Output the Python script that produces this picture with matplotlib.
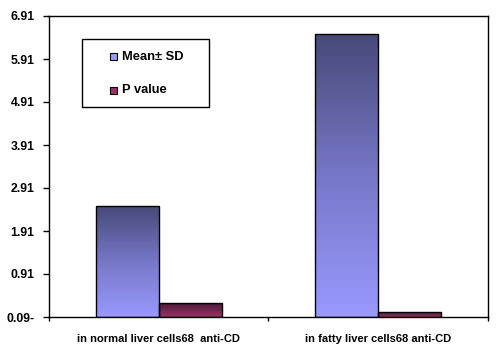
import numpy as np
import matplotlib.pyplot as plt
from matplotlib.colors import LinearSegmentedColormap
from matplotlib.patches import Rectangle

plt.rcParams['font.family'] = ['Liberation Sans', 'DejaVu Sans']
plt.rcParams['font.weight'] = 'bold'

categories = ['in normal liver cells68  anti-CD', 'in fatty liver cells68 anti-CD']
mean_sd = [2.49, 6.48]
p_value = [0.23, 0.02]
series = ['Mean± SD', 'P value']
yticks = [-0.09, 0.91, 1.91, 2.91, 3.91, 4.91, 5.91, 6.91]
ytick_labels = ['0.09-', '0.91', '1.91', '2.91', '3.91', '4.91', '5.91', '6.91']

W, H = 498, 354
fig = plt.figure(figsize=(W / 100, H / 100), dpi=100)
ax = fig.add_axes([49 / W, 1 - 317 / H, (487.7 - 49) / W, (317 - 16) / H])

ymin, ymax = -0.09, 6.91
x = np.arange(len(categories))
w = 0.287

cmap_mean = LinearSegmentedColormap.from_list('m', ['#9999ff', '#7777c8', '#474a78'])
cmap_p = LinearSegmentedColormap.from_list('p', ['#993366', '#4a1a38'])

def grad_bar(xc, h, cmap):
    bars = ax.bar(xc, h - ymin, w, bottom=ymin, color='none', edgecolor='black',
                  linewidth=1, zorder=3)
    for b in bars:
        grad = np.linspace(0, 1, 256).reshape(-1, 1)
        im = ax.imshow(grad, cmap=cmap, aspect='auto', origin='lower',
                       extent=[b.get_x(), b.get_x() + b.get_width(), ymin, ymin + b.get_height()],
                       zorder=2)
        im.set_clip_path(b)

grad_bar(x - w / 2, np.array(mean_sd), cmap_mean)
grad_bar(x + w / 2, np.array(p_value), cmap_p)

ax.set_xlim(-0.5, len(categories) - 0.5)
ax.set_ylim(ymin, ymax)
ax.set_yticks(yticks)
ax.set_yticklabels(ytick_labels, fontsize=8.8, fontweight='bold')
ax.set_xticks([-0.5, 0.5, 1.5])
ax.set_xticklabels([])
ax.set_xticks(x, minor=True)
ax.set_xticklabels(categories, minor=True, fontsize=8, fontweight='bold')
ax.tick_params(axis='x', which='minor', length=0, pad=12)
ax.tick_params(axis='x', which='major', length=3, width=1, direction='out')
ax.tick_params(axis='y', length=4.3, width=1, direction='out', pad=6)
for s in ax.spines.values():
    s.set_linewidth(1)

# legend box drawn by hand (figure pixel positions)
def fx(px):
    return px / W

def fy(py):
    return 1 - py / H

fig.patches.append(Rectangle((fx(82.3), fy(107.3)), fx(209.3) - fx(82.3), fy(39.3) - fy(107.3),
                             transform=fig.transFigure, facecolor='white', edgecolor='black',
                             linewidth=1, zorder=5))
for label, col, py in zip(series, ['#9999ff', '#993366'], [56.5, 90]):
    fig.patches.append(Rectangle((fx(110), fy(py + 3.5)), fx(7), 7 / H,
                                 transform=fig.transFigure, facecolor=col, edgecolor='black',
                                 linewidth=0.8, zorder=6))
    fig.text(fx(122), fy(py), label, fontsize=9.3, fontweight='bold', va='center', ha='left',
             zorder=7)

fig.savefig('out.png', dpi=100)
